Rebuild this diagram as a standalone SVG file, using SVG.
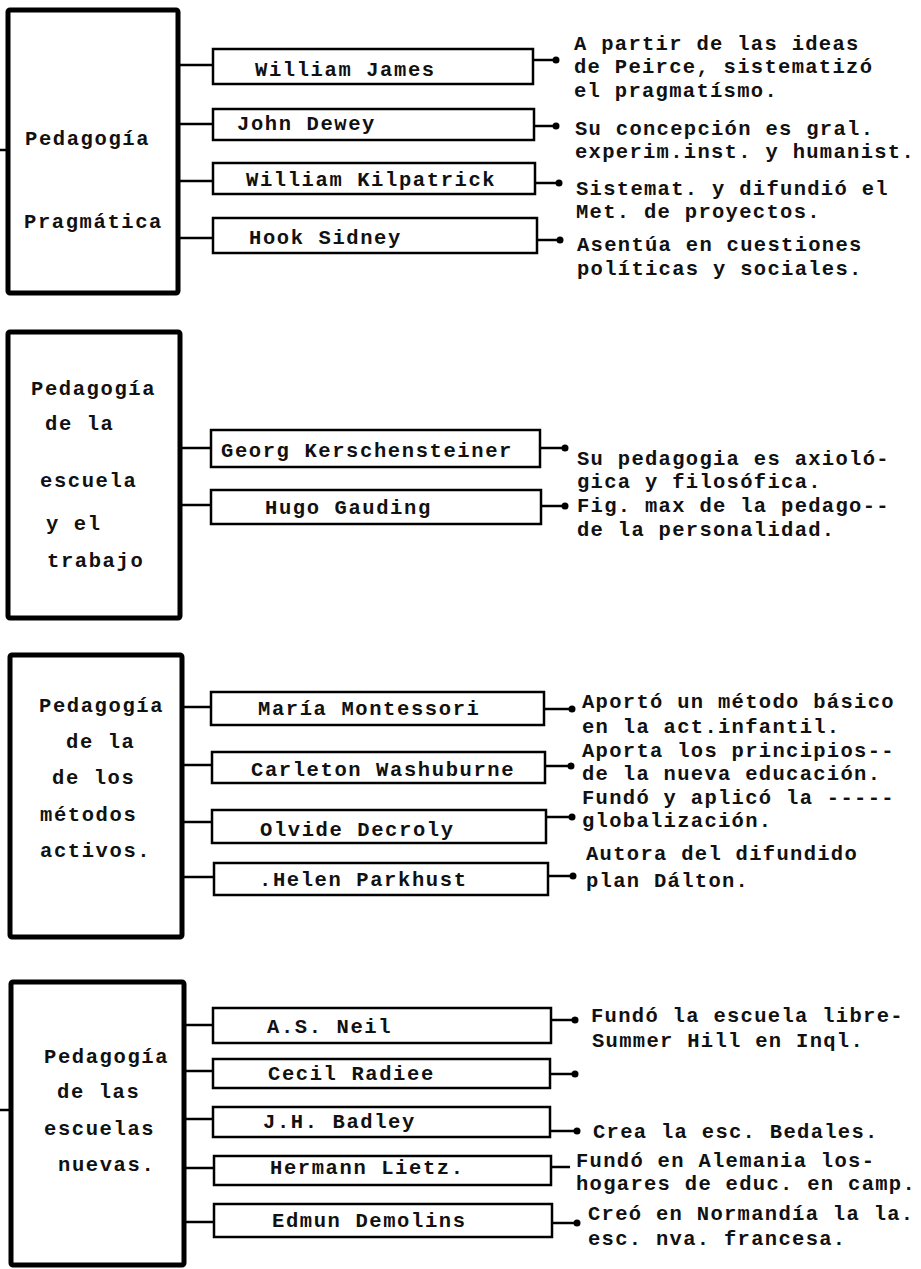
<svg xmlns="http://www.w3.org/2000/svg" width="921" height="1269" viewBox="0 0 921 1269">
<style>
.t{font-family:"Liberation Mono","Courier New",monospace;font-size:20.5px;font-weight:bold;letter-spacing:1.6px;fill:#111}
.s{letter-spacing:1.3px}
.big{fill:#fff;stroke:#000;stroke-width:5}
.box{fill:#fff;stroke:#000;stroke-width:2.5}
.c{stroke:#000;stroke-width:2.5;fill:none}
.d{marker-end:url(#dot)}
</style>
<defs>
<marker id="dot" viewBox="0 0 8 8" refX="4" refY="4" markerWidth="8" markerHeight="8" markerUnits="userSpaceOnUse"><circle cx="4" cy="4" r="3.5" fill="#000"/></marker>
</defs>
<rect width="921" height="1269" fill="#fff"/>

<g id="connectors">
<line class="c" x1="0" y1="150" x2="8" y2="150"/>
<line class="c" x1="178" y1="65" x2="213" y2="65"/>
<line class="c" x1="178" y1="124" x2="213" y2="124"/>
<line class="c" x1="178" y1="181" x2="213" y2="181"/>
<line class="c" x1="178" y1="238" x2="213" y2="238"/>
<line class="c d" x1="533" y1="60" x2="556" y2="60"/>
<line class="c d" x1="534" y1="126" x2="556" y2="126"/>
<line class="c d" x1="535" y1="183" x2="559" y2="183"/>
<line class="c d" x1="537" y1="240" x2="560" y2="240"/>

<line class="c" x1="180" y1="448" x2="211" y2="448"/>
<line class="c" x1="180" y1="505" x2="211" y2="505"/>
<line class="c d" x1="540" y1="448" x2="565" y2="448"/>
<line class="c d" x1="541" y1="506" x2="565" y2="506"/>

<line class="c" x1="182" y1="707" x2="211" y2="707"/>
<line class="c" x1="182" y1="765" x2="212" y2="765"/>
<line class="c" x1="182" y1="822" x2="212" y2="822"/>
<line class="c" x1="182" y1="877" x2="214" y2="877"/>
<line class="c d" x1="544" y1="709" x2="572" y2="709"/>
<line class="c d" x1="545" y1="766" x2="571" y2="766"/>
<line class="c d" x1="546" y1="817" x2="572" y2="817"/>
<line class="c d" x1="548" y1="876" x2="573" y2="876"/>

<line class="c" x1="0" y1="1110" x2="11" y2="1110"/>
<line class="c" x1="184" y1="1025" x2="213" y2="1025"/>
<line class="c" x1="184" y1="1071" x2="213" y2="1071"/>
<line class="c" x1="184" y1="1119" x2="213" y2="1119"/>
<line class="c" x1="184" y1="1168" x2="214" y2="1168"/>
<line class="c" x1="184" y1="1222" x2="214" y2="1222"/>
<line class="c d" x1="551" y1="1020" x2="575" y2="1020"/>
<line class="c d" x1="550" y1="1074" x2="575" y2="1074"/>
<line class="c d" x1="550" y1="1131" x2="577" y2="1131"/>
<line class="c" x1="551" y1="1167" x2="570" y2="1167"/>
<line class="c d" x1="552" y1="1223" x2="577" y2="1223"/>
</g>

<g id="pragmatica">
<rect class="big" x="8" y="10" width="170" height="283" rx="2"/>
<text class="t" x="25" y="145">Pedagogía</text>
<text class="t" x="24" y="228">Pragmática</text>
</g>
<g id="william-james"><rect class="box" x="213" y="49" width="320" height="35"/><text class="t" x="255" y="76">William James</text></g>
<g id="john-dewey"><rect class="box" x="213" y="109" width="321" height="31"/><text class="t" x="237" y="130">John Dewey</text></g>
<g id="william-kilpatrick"><rect class="box" x="213" y="163" width="322" height="31"/><text class="t" x="246" y="186">William Kilpatrick</text></g>
<g id="hook-sidney"><rect class="box" x="213" y="218" width="324" height="35"/><text class="t" x="249" y="244">Hook Sidney</text></g>
<g id="desc-james"><text class="t s" x="574" y="50">A partir de las ideas</text><text class="t s" x="574" y="73">de Peirce, sistematizó</text><text class="t s" x="574" y="97">el pragmatísmo.</text></g>
<g id="desc-dewey"><text class="t s" x="575" y="135">Su concepción es gral.</text><text class="t s" x="575" y="158">experim.inst. y humanist.</text></g>
<g id="desc-kilpatrick"><text class="t s" x="576" y="195">Sistemat. y difundió el</text><text class="t s" x="576" y="218">Met. de proyectos.</text></g>
<g id="desc-sidney"><text class="t s" x="577" y="251">Asentúa en cuestiones</text><text class="t s" x="577" y="275">políticas y sociales.</text></g>

<g id="escuela-trabajo">
<rect class="big" x="8" y="332" width="172" height="286" rx="2"/>
<text class="t" x="31" y="395">Pedagogía</text>
<text class="t" x="45" y="430">de la</text>
<text class="t" x="40" y="487">escuela</text>
<text class="t" x="46" y="530">y el</text>
<text class="t" x="47" y="567">trabajo</text>
</g>
<g id="kerschensteiner"><rect class="box" x="211" y="430" width="329" height="37"/><text class="t" x="221" y="457">Georg Kerschensteiner</text></g>
<g id="gauding"><rect class="box" x="211" y="490" width="330" height="34"/><text class="t" x="265" y="514">Hugo Gauding</text></g>
<g id="desc-kerschensteiner"><text class="t s" x="577" y="465">Su pedagogia es axioló-</text><text class="t s" x="577" y="488">gica y filosófica.</text></g>
<g id="desc-gauding"><text class="t s" x="577" y="512">Fig. max de la pedago--</text><text class="t s" x="577" y="536">de la personalidad.</text></g>

<g id="metodos-activos">
<rect class="big" x="10" y="655" width="172" height="282" rx="2"/>
<text class="t" x="39" y="712">Pedagogía</text>
<text class="t" x="66" y="748">de la</text>
<text class="t" x="52" y="784">de los</text>
<text class="t" x="40" y="821">métodos</text>
<text class="t" x="40" y="857">activos.</text>
</g>
<g id="montessori"><rect class="box" x="211" y="692" width="333" height="33"/><text class="t" x="258" y="715">María Montessori</text></g>
<g id="washuburne"><rect class="box" x="212" y="752" width="333" height="31"/><text class="t" x="251" y="776">Carleton Washuburne</text></g>
<g id="decroly"><rect class="box" x="212" y="810" width="334" height="33"/><text class="t" x="260" y="836">Olvide Decroly</text></g>
<g id="parkhust"><rect class="box" x="214" y="863" width="334" height="32"/><text class="t" x="259" y="886">.Helen Parkhust</text></g>
<g id="desc-montessori"><text class="t s" x="582" y="708">Aportó un método básico</text><text class="t s" x="582" y="733">en la act.infantil.</text></g>
<g id="desc-washuburne"><text class="t s" x="582" y="757">Aporta los principios--</text><text class="t s" x="582" y="780">de la nueva educación.</text></g>
<g id="desc-decroly"><text class="t s" x="582" y="804">Fundó y aplicó la -----</text><text class="t s" x="582" y="827">globalización.</text></g>
<g id="desc-parkhust"><text class="t s" x="586" y="860">Autora del difundido</text><text class="t s" x="586" y="887">plan Dálton.</text></g>

<g id="escuelas-nuevas">
<rect class="big" x="11" y="982" width="173" height="283" rx="2"/>
<text class="t" x="44" y="1063">Pedagogía</text>
<text class="t" x="57" y="1098">de las</text>
<text class="t" x="44" y="1135">escuelas</text>
<text class="t" x="58" y="1171">nuevas.</text>
</g>
<g id="neil"><rect class="box" x="213" y="1008" width="338" height="35"/><text class="t" x="267" y="1033">A.S. Neil</text></g>
<g id="radiee"><rect class="box" x="213" y="1059" width="337" height="29"/><text class="t" x="268" y="1080">Cecil Radiee</text></g>
<g id="badley"><rect class="box" x="213" y="1107" width="337" height="30"/><text class="t" x="263" y="1128">J.H. Badley</text></g>
<g id="lietz"><rect class="box" x="214" y="1156" width="337" height="29"/><text class="t" x="270" y="1174">Hermann Lietz.</text></g>
<g id="demolins"><rect class="box" x="214" y="1204" width="338" height="33"/><text class="t" x="272" y="1227">Edmun Demolins</text></g>
<g id="desc-neil"><text class="t s" x="591" y="1022">Fundó la escuela libre-</text><text class="t s" x="592" y="1047">Summer Hill en Inql.</text></g>
<g id="desc-badley"><text class="t s" x="593" y="1138">Crea la esc. Bedales.</text></g>
<g id="desc-lietz"><text class="t s" x="576" y="1167">Fundó en Alemania los-</text><text class="t s" x="576" y="1190">hogares de educ. en camp.</text></g>
<g id="desc-demolins"><text class="t s" x="588" y="1220">Creó en Normandía la la.</text><text class="t s" x="588" y="1245">esc. nva. francesa.</text></g>
</svg>
